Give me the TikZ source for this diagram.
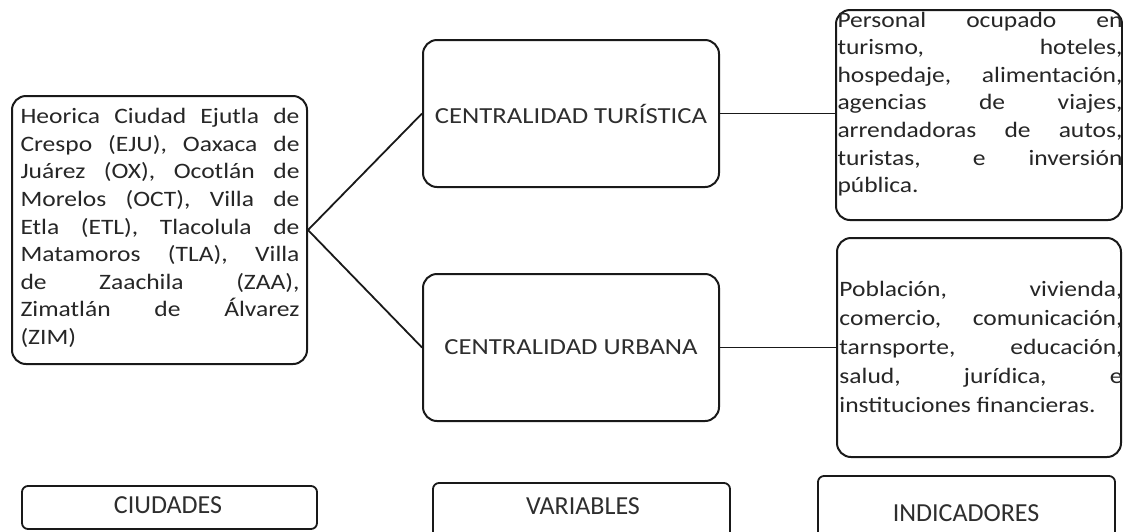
\documentclass[tikz,border=0pt]{standalone}
\usepackage{fontspec}
\setmainfont{Carlito}
\newcommand{\bodyx}{1.16}
\newcommand{\jl}[2]{\scalebox{\bodyx}[1]{\makebox[#1][s]{#2}}\\}
\newcommand{\jlast}[1]{\scalebox{\bodyx}[1]{#1}}
\begin{document}
\begin{tikzpicture}[x=1pt,y=-1pt,
  box/.style={draw=black!90,line width=2pt,rounded corners=14pt,fill=white,inner sep=0pt},
  lbl/.style={box,rounded corners=6pt,line width=1.8pt},
  link/.style={draw=black!90,line width=1.8pt},
  body/.style={font=\fontsize{22}{27.6}\selectfont,text=black!85,align=left},
  bodyb/.style={font=\fontsize{22}{29}\selectfont,text=black!85,align=left},
  head/.style={font=\fontsize{23}{28}\selectfont,text=black!82},
  tag/.style={font=\fontsize{26}{30}\selectfont,text=black!82}]
\useasboundingbox (0,0) rectangle (1123,531);
% boxes
\node[box,minimum width=295pt,minimum height=268pt] (city) at (159.5,230) {};
\node[body,anchor=center] (citytext) at (160,228) {%
\jl{240.5pt}{Heorica Ciudad Ejutla de}%
\jl{240.5pt}{Crespo (EJU), Oaxaca de}%
\jl{240.5pt}{Juárez (OX), Ocotlán de}%
\jl{240.5pt}{Morelos (OCT), Villa de}%
\jl{240.5pt}{Etla (ETL), Tlacolula de}%
\jl{240.5pt}{Matamoros (TLA), Villa}%
\jl{240.5pt}{de Zaachila (ZAA),}%
\jl{240.5pt}{Zimatlán de Álvarez}%
\jlast{(ZIM)}};
\node[box,minimum width=296pt,minimum height=147pt] (tur) at (571,113.5) {};
\node[head] (turtext) at (571,113.5) {\scalebox{1.16}[1]{CENTRALIDAD TURÍSTICA}};
\node[box,minimum width=296pt,minimum height=147pt] (urb) at (571,347.5) {};
\node[head] (urbtext) at (571,347.5) {\scalebox{1.16}[1]{CENTRALIDAD URBANA}};
\node[box,minimum width=286pt,minimum height=210pt] (ind1) at (979,115) {};
\node[body,anchor=center] (ind1text) at (980,104) {%
\jl{245.7pt}{Personal ocupado en}%
\jl{245.7pt}{turismo, hoteles,}%
\jl{245.7pt}{hospedaje, alimentación,}%
\jl{245.7pt}{agencias de viajes,}%
\jl{245.7pt}{arrendadoras de autos,}%
\jl{245.7pt}{turistas, e inversión}%
\jlast{pública.}};
\node[box,minimum width=284pt,minimum height=219pt] (ind2) at (979,347.5) {};
\node[bodyb,anchor=center] (ind2text) at (981,347) {%
\jl{244pt}{Población, vivienda,}%
\jl{244pt}{comercio, comunicación,}%
\jl{244pt}{tarnsporte, educación,}%
\jl{244pt}{salud, jurídica, e}%
\jlast{instituciones financieras.}};
% connectors
\draw[link] (city.east) -- (tur.west);
\draw[link] (city.east) -- (urb.west);
\draw[link] (tur.east) -- (tur.east -| ind1.west);
\draw[link] (urb.east) -- (urb.east -| ind2.west);
% bottom labels
\node[lbl,minimum width=295pt,minimum height=43pt] (ciu) at (169.5,507.5) {};
\node[tag] (ciutext) at (168,505) {CIUDADES};
\node[lbl,minimum width=297pt,minimum height=60pt] (var) at (581.5,513) {};
\node[tag] (vartext) at (583,506) {VARIABLES};
\node[lbl,minimum width=297pt,minimum height=70pt] (ind) at (966.5,511) {};
\node[tag] (indtext) at (966,513) {INDICADORES};
\end{tikzpicture}
\end{document}
